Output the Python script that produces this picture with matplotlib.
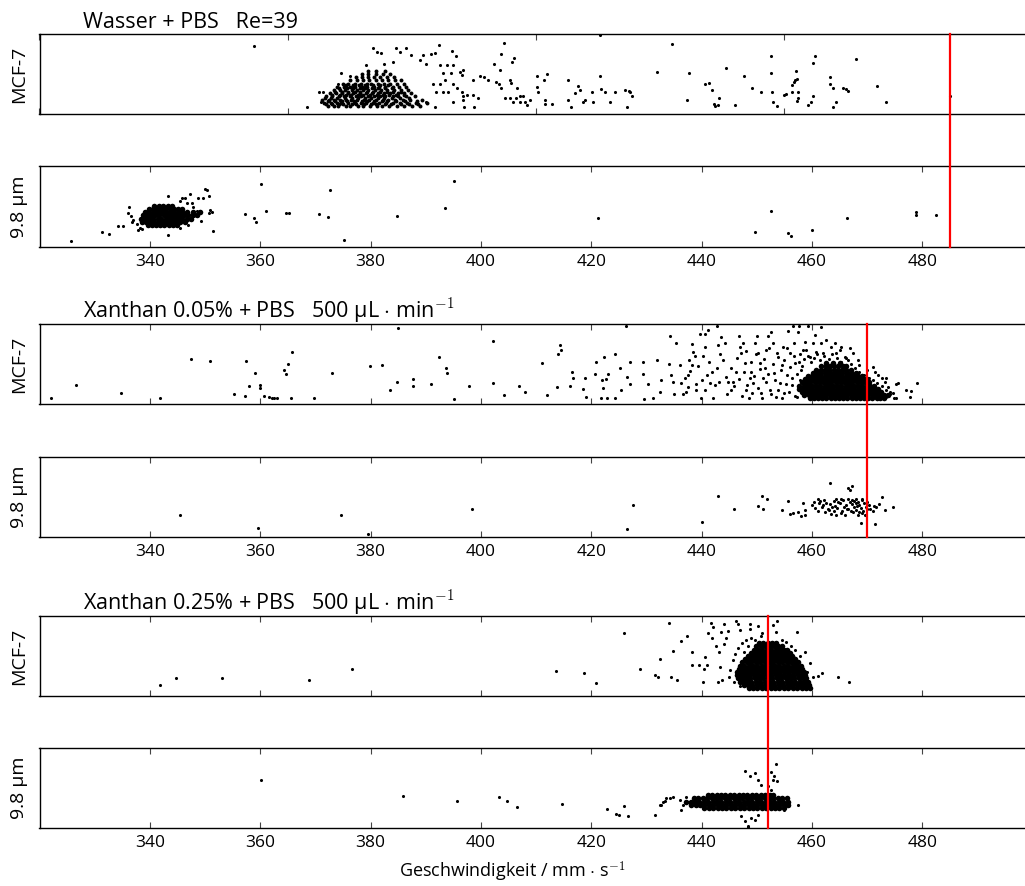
import numpy as np
import matplotlib
matplotlib.use("Agg")
import matplotlib.pyplot as plt
import matplotlib.transforms as mtransforms
from matplotlib.lines import Line2D

plt.rcParams['font.family'] = ['Open Sans', 'DejaVu Sans']
plt.rcParams['mathtext.fontset'] = 'cm'

# ---------------- data ----------------
x_limits = (320, 500)
ticks_std = [340, 360, 380, 400, 420, 440, 460, 480]
ticks_p1 = [320, 365, 410, 455, 500]

titles = ["Wasser + PBS   Re=39",
          "Xanthan 0.05% + PBS   500 µL $\\cdot$ min$^{-1}$",
          "Xanthan 0.25% + PBS   500 µL $\\cdot$ min$^{-1}$"]
row_labels = ["MCF-7", "9.8 µm"]
x_label = "Geschwindigkeit / mm $\\cdot$ s$^{-1}$"
red_lines = [485, 470, 452]

# Panel 1: Wasser, MCF-7 (velocity, relative y)
p1_pts = [
 (358.9,.85),(368.4,.09),(370.7,.28),(371.4,.28),(371.1,.15),
 (380.4,.83),(381.1,.77),(381.9,.76),(384.6,.83),(385.4,.78),(386.4,.83),(387.4,.74),(389.5,.74),(391.0,.75),
 (391.6,.76),(392.4,.86),(394.7,.79),(395.4,.73),(379.1,.61),(382.4,.63),(384.0,.65),(389.0,.68),(390.1,.63),
 (392.6,.61),(393.8,.61),(394.9,.61),(374.7,.51),(376.2,.47),(374.1,.38),
 (393.2,.51),(394.5,.51),(393.5,.43),(396.2,.53),(396.5,.49),(396.8,.55),(398.5,.43),(399.8,.47),(400.5,.46),
 (401.3,.42),(394.9,.38),(395.6,.32),(396.5,.28),(396.8,.22),(397.4,.24),(398.5,.24),(399.5,.20),(394.9,.15),
 (396.7,.18),(397.0,.09),(398.8,.09),(391.6,.09),(390.1,.15),(391.9,.28),(393.2,.28),(394.1,.28),(392.6,.38),(391.3,.38),
 (402.3,.63),(403.6,.75),(404.1,.89),(403.5,.55),(405.7,.65),(406.0,.70),(402.8,.40),(403.2,.38),(403.7,.32),
 (405.2,.43),(405.5,.39),(406.6,.33),(404.3,.20),(405.2,.20),(405.8,.15),(406.4,.20),(407.0,.22),(407.0,.15),
 (407.9,.15),(408.3,.11),(408.9,.18),(407.6,.22),
 (410.2,.48),(411.9,.50),(411.4,.43),(410.2,.34),(410.4,.27),(411.6,.18),(411.6,.13),(412.8,.13),(415.8,.42),
 (417.6,.35),(417.9,.30),(417.0,.26),(415.7,.18),(416.4,.09),(418.5,.15),(418.8,.18),(420.3,.15),(420.2,.28),
 (421.5,.47),(421.7,.31),(422.5,.28),(423.4,.15),(424.3,.28),(426.1,.30),(426.9,.29),(427.3,.22),(426.4,.09),(421.5,.99),
 (427.0,.27),(434.7,.88),(432.0,.52),(437.8,.51),(437.4,.17),(440.6,.37),(441.3,.39),(441.8,.30),(442.2,.13),
 (442.5,.10),(443.0,.11),(443.2,.20),(444.4,.58),(446.0,.11),(447.7,.48),(449.2,.33),(450.8,.28),(452.5,.73),
 (452.6,.51),(452.8,.27),(453.0,.15),(453.6,.10),(455.0,.24),(455.3,.25),(456.4,.28),(456.4,.36),(456.7,.40),
 (457.0,.43),(457.2,.44),(457.1,.54),(457.5,.27),(457.5,.20),(457.3,.16),(459.2,.11),(459.8,.15),(460.2,.23),
 (460.2,.64),(460.5,.73),(463.2,.46),(463.2,.38),(463.8,.32),(464.4,.15),(463.8,.09),(465.7,.32),(466.2,.31),
 (466.6,.29),(468.0,.69),(471.8,.35),(473.5,.15),(485.0,.23),
]
p1_dense_y = [0.10, 0.12, 0.14, 0.16, 0.18, 0.20, 0.22, 0.24, 0.26, 0.28, 0.30, 0.32, 0.34, 0.36,
              0.38, 0.42, 0.46, 0.50, 0.54]
p1_dense_x = [
 [372.3,373.4,374.1,375.5,376.3,377.8,378.6,379.9,381.2,382.0,383.4,384.7,386.1,387.5,389.0],
 [371.9,373.0,374.3,375.0,376.7,377.4,378.9,380.1,381.0,382.6,383.7,385.5,387.0,388.6],
 [371.6,372.8,373.9,374.7,376.0,377.1,378.3,379.2,380.5,381.6,382.8,384.0,385.3,386.6,388.2,390.3],
 [372.2,373.5,374.9,375.8,377.0,378.4,379.3,380.6,382.0,383.0,384.6,386.2,388.4],
 [371.2,372.5,373.3,374.4,375.6,376.5,377.6,378.9,379.8,381.0,382.3,383.2,384.5,385.9,387.2,389.4],
 [371.8,372.9,374.0,375.3,376.6,377.8,379.0,380.0,381.4,382.5,383.9,385.4,387.0],
 [372.0,373.1,374.2,375.1,376.2,377.4,378.2,379.5,380.6,381.8,382.7,384.1,385.0,386.4,388.0],
 [373.0,374.4,375.6,376.4,377.7,378.6,379.9,381.1,382.2,383.3,384.6,386.0],
 [372.6,373.7,374.8,375.9,376.8,378.0,379.1,380.2,381.4,382.5,383.6,384.9,386.0,387.3],
 [373.5,374.9,376.0,377.2,378.1,379.4,380.4,381.7,382.9,384.1,385.5],
 [373.3,374.5,375.4,376.6,377.5,378.7,379.6,380.8,381.9,383.0,384.3,385.6,386.8],
 [374.3,375.7,376.9,378.0,379.0,380.3,381.3,382.6,383.8],
 [374.0,375.2,376.3,377.2,378.4,379.4,380.6,381.5,382.7,384.0,385.2,386.5],
 [375.5,376.8,377.9,379.0,380.5,381.8,383.2],
 [375.0,376.0,377.1,378.2,379.3,380.1,381.3,382.4,383.6,384.8,386.0],
 [376.2,377.5,378.6,379.8,380.9,382.0,383.2,384.4,385.5],
 [377.3,378.5,379.6,380.7,381.8,383.0,384.3],
 [378.4,379.6,380.9,382.2,383.5],
 [379.5,381.0,382.6],
]

# Panel 2: Wasser, 9.8 µm beads
p2_pts = [
 (325.7,.07),(331.4,.19),(332.6,.16),(334.2,.26),(335.1,.26),(336.1,.42),(336.3,.50),(336.5,.38),(336.7,.31),
 (337.0,.33),(337.6,.29),(337.9,.21),(338.2,.24),(338.5,.22),(343.3,.63),(343.3,.15),(345.5,.57),(345.5,.24),
 (345.9,.61),(346.4,.61),(346.7,.54),(347.3,.65),(347.6,.54),(347.9,.50),(348.8,.61),(349.7,.61),(350.0,.72),
 (350.3,.70),(350.7,.63),(350.9,.46),(351.2,.43),(350.8,.42),(349.2,.32),(351.4,.20),(347.0,.27),(347.6,.35),
 (348.2,.40),(348.5,.44),(349.1,.45),
 (357.2,.41),(358.9,.36),(359.3,.31),(360.1,.78),(361.1,.45),(364.6,.42),(365.2,.42),(370.7,.41),(372.2,.37),
 (372.6,.70),(375.2,.09),(384.8,.38),(393.5,.48),(395.2,.81),(421.2,.36),(449.6,.19),(452.6,.44),(455.6,.17),
 (456.2,.14),(460.0,.21),(466.3,.36),(478.8,.43),(478.8,.40),(482.4,.40),
]
p2_dense_y = [0.27, 0.31, 0.35, 0.39, 0.43, 0.47, 0.51]
p2_dense_x = [
 [339.6,340.4,341.1,341.9,342.6,343.4,344.2,345.0],
 [338.6,339.3,340.1,340.8,341.6,342.3,343.1,343.8,344.6,345.4,346.3],
 [338.4,339.1,339.9,340.6,341.4,342.1,342.9,343.6,344.4,345.1,345.9,346.7,347.5],
 [338.7,339.5,340.2,341.0,341.7,342.5,343.2,344.0,344.7,345.5,346.2,347.0,347.8,348.6],
 [339.2,339.9,340.7,341.4,342.2,342.9,343.7,344.4,345.2,345.9,346.8,347.9,349.0],
 [339.8,340.6,341.3,342.1,342.8,343.6,344.3,345.1,345.9],
 [340.8,341.6,342.4,343.2,344.0],
]

# Panel 3: Xanthan 0.05 %, MCF-7
p3_pts = [
 (322.0,.07),(326.6,.24),(334.8,.14),(341.8,.07),(347.5,.56),(350.9,.54),(355.2,.13),(357.3,.10),(357.4,.54),
 (358.0,.23),(359.0,.39),(359.9,.24),(359.9,.20),(360.7,.10),(361.6,.09),(362.1,.08),(362.5,.075),(363.1,.07),
 (364.3,.43),(364.7,.37),(365.0,.50),(365.7,.65),(365.6,.07),(369.7,.07),(373.0,.39),(379.9,.48),(382.0,.49),
 (383.6,.17),(384.7,.27),(385.0,.95),(387.6,.31),(387.6,.23),(390.9,.25),(392.4,.59),(393.6,.45),(393.9,.39),
 (395.1,.06),(397.9,.22),(402.1,.79),(402.1,.26),(404.2,.11),(406.9,.22),
 (407.9,.155),(411.0,.51),(411.9,.11),(413.7,.21),(414.0,.63),(414.3,.74),(414.6,.675),(416.2,.225),(416.5,.40),
 (416.6,.32),(418.5,.19),(418.8,.32),(419.0,.09),(420.6,.37),(420.9,.52),(421.7,.08),(421.9,.30),(422.1,.195),
 (422.3,.59),(422.6,.31),(422.9,.08),(423.1,.375),(424.3,.625),(424.3,.08),(425.2,.45),(425.3,.175),(426.3,.975),
 (426.5,.34),(427.0,.53),(427.1,.25),(429.3,.52),(429.4,.38),(429.6,.06),(430.3,.25),(431.1,.07),(431.9,.55),
 (432.4,.155),(432.7,.30),(434.1,.50),(434.2,.85),(434.5,.36),(434.8,.28),(435.0,.125),(436.2,.26),(436.6,.125),
 (437.2,.155),(437.5,.36),(437.8,.55),(438.2,.49),(438.3,.75),(438.5,.655),(438.8,.60),(438.9,.25),(439.4,.47),
 (439.7,.875),(439.9,.08),(440.3,.60),(440.6,.875),(440.7,.717),(440.9,.36),(441.2,.925),(441.3,.53),(441.5,.26),
 (442.1,.08),(442.7,.975),(443.0,.74),(435.4,.758),(436.0,.488),(436.9,.32),(437.5,.217),(437.9,.417),(439.05,.175),
 (440.1,.30),(440.6,.175),(441.8,.404),(442.4,.238),(442.7,.446),(443.1,.279),
 (443.6,.84),(443.3,.63),(444.2,.76),(443.9,.55),(444.5,.34),(444.8,.28),(445.4,.175),(445.7,.28),(446.3,.40),
 (446.7,.85),(446.9,.717),(447.2,.633),(447.5,.76),(447.8,.508),(448.1,.175),(448.6,.08),(448.7,.32),(449.0,.40),
 (449.3,.258),(449.6,.76),(450.0,.85),(450.2,.633),(450.5,.508),(450.8,.133),(451.1,.32),(451.4,.446),(451.7,.675),
 (452.0,.85),(452.3,.175),(452.6,.904),(452.9,.76),(453.2,.383),(453.5,.092),(453.8,.592),(454.2,.258),(454.5,.488),
 (454.8,.717),(455.0,.133),(455.4,.363),(455.7,.917),(455.96,.633),(456.3,.238),(456.6,.975),(456.7,.758),(456.9,.508),
 (457.2,.092),(457.5,.904),(457.7,.975),(457.8,.30),(457.95,.425),(458.4,.675),(458.7,.779),(458.98,.217),(459.3,.975),
 (459.6,.592),(460.2,.758),(460.5,.8625),(460.8,.654),(461.6,.967),(461.7,.758),(462.0,.633),(462.6,.80),(463.5,.717),
 (464.1,.758),(464.4,.633),(465.0,.675),(465.3,.717),(465.9,.592),(466.5,.55),(466.8,.696),(467.4,.633),(468.3,.55),
 (468.6,.488),(469.9,.425),(471.1,.467),(471.4,.404),(472.0,.363),(472.6,.32),(473.2,.279),(473.5,.32),(473.8,.217),
 (474.7,.133),(475.2,.25),(475.6,.267),(475.3,.071),(474.1,.154),(473.5,.083),(477.1,.175),(478.0,.167),(477.7,.083),
 (479.0,.267),
 (444.6,.12),(445.3,.45),(445.9,.22),(446.4,.58),(446.8,.31),(447.3,.10),(447.6,.40),(448.0,.66),(448.3,.24),
 (448.9,.52),(449.2,.14),(449.5,.35),(449.9,.62),(450.3,.20),(450.6,.44),(451.0,.08),(451.3,.56),(451.6,.27),
 (452.0,.38),(452.2,.70),(452.6,.12),(452.9,.50),(453.3,.30),(453.6,.64),(453.9,.18),(454.3,.42),(454.6,.08),
 (454.9,.55),(455.2,.25),(455.5,.70),(455.8,.15),(456.1,.46),(456.4,.33),(456.8,.60),(457.0,.10),(457.3,.38),
 (457.6,.52),(457.9,.62),(458.2,.47),(458.5,.56),(458.9,.68),(459.3,.60),(459.8,.52),(460.3,.57),(460.9,.62),
 (461.5,.55),(462.2,.60),(463.0,.56),(463.7,.62),(464.5,.57),(465.3,.52),(466.1,.58),(467.0,.50),(467.8,.45),
 (468.5,.40),(469.4,.36),(470.3,.33),(471.0,.30),(471.8,.26),(472.6,.22),(473.4,.18),(474.2,.12),(474.8,.08),
]
p3_dense_y = [0.07, 0.11, 0.15, 0.19, 0.23, 0.27, 0.31, 0.35, 0.39, 0.43, 0.47, 0.51]
p3_dense_x = [
 [459.6,460.3,461.1,461.8,462.6,463.4,464.1,464.9,465.6,466.4,467.2,467.9,468.7,469.4,470.2,470.9,471.7,472.4,473.1],
 [458.6,459.4,460.1,460.9,461.7,462.4,463.2,463.9,464.7,465.5,466.2,467.0,467.7,468.5,469.3,470.0,470.8,471.5,472.3,473.0,473.7],
 [458.1,458.9,459.6,460.4,461.2,461.9,462.7,463.4,464.2,465.0,465.7,466.5,467.2,468.0,468.8,469.5,470.3,471.0,471.8,472.5],
 [457.6,458.4,459.1,459.9,460.7,461.4,462.2,462.9,463.7,464.5,465.2,466.0,466.7,467.5,468.3,469.0,469.8,470.5,471.3,472.0],
 [457.7,458.5,459.2,460.0,460.8,461.5,462.3,463.0,463.8,464.6,465.3,466.1,466.8,467.6,468.4,469.1,469.9,470.6,471.2],
 [458.2,459.0,459.7,460.5,461.3,462.0,462.8,463.5,464.3,465.1,465.8,466.6,467.3,468.1,468.9,469.6,470.4],
 [458.7,459.5,460.2,461.0,461.8,462.5,463.3,464.0,464.8,465.6,466.3,467.1,467.8,468.6,469.4,470.0],
 [459.2,460.0,460.7,461.5,462.3,463.0,463.8,464.5,465.3,466.1,466.8,467.6,468.3,469.0],
 [460.2,461.0,461.7,462.5,463.3,464.0,464.8,465.5,466.3,467.1,467.9],
 [460.8,461.6,462.4,463.1,463.9,464.7,465.4,466.2,467.0],
 [461.7,462.5,463.3,464.0,464.8,465.6,466.2],
 [462.6,463.8,465.0],
]

# Panel 4: Xanthan 0.05 %, 9.8 µm beads
p4_pts = [
 (345.5,.28),(359.6,.11),(374.7,.275),(379.6,.04),(398.3,.35),
 (426.4,.10),(427.6,.396),(440.0,.19),(442.9,.51),(445.8,.346),(450.2,.387),(450.9,.517),(451.1,.346),(451.9,.475),
 (454.5,.333),(455.6,.446),(456.1,.287),(456.6,.296),(457.5,.317),(457.95,.267),(458.3,.425),(458.7,.337),(458.8,.27),
 (463.2,.68),(466.5,.61),(466.8,.59),(467.2,.642),(468.9,.18),(471.5,.158),(472.6,.504),(474.6,.379),(473.2,.337),
 (463.5,.29),(464.3,.27),(465.2,.30),(466.0,.28),(467.4,.31),(468.3,.27),(469.0,.30),(469.6,.28),
 (461.0,.33),(462.4,.31),(463.1,.34),(464.0,.32),(465.5,.33),(466.3,.35),(467.0,.32),(467.9,.34),(468.6,.31),
 (469.3,.33),(470.0,.35),(471.0,.32),
 (460.5,.36),(461.8,.38),(462.9,.35),(463.7,.37),(464.6,.36),(465.8,.38),(466.6,.35),(467.6,.37),(468.2,.39),
 (468.9,.36),(469.8,.37),(470.6,.35),(471.6,.37),
 (460.0,.40),(461.2,.42),(462.0,.40),(463.3,.41),(464.1,.39),(465.1,.42),(466.2,.40),(467.2,.41),(467.9,.43),
 (468.5,.40),(469.4,.42),(470.3,.40),(471.3,.39),(472.2,.41),
 (460.3,.44),(461.5,.45),(462.6,.43),(463.9,.45),(464.8,.44),(465.6,.46),(466.9,.44),(467.6,.45),(468.3,.44),
 (469.1,.46),(470.0,.44),
 (461.1,.47),(462.2,.46),(464.4,.47),(465.3,.48),(466.5,.47),(467.3,.46),(468.0,.48),(469.0,.47),
]

# Panel 5: Xanthan 0.25 %, MCF-7
p5_pts = [
 (341.8,.138),(344.7,.229),(353.0,.229),(368.9,.20),(376.6,.333),
 (413.6,.317),(418.6,.283),(420.9,.167),(425.9,.783),(428.8,.337),(431.5,.2625),(432.1,.242),(432.4,.4625),
 (434.0,.917),(434.5,.242),(434.9,.5625),(435.6,.20),(436.3,.692),(437.4,.75),(438.2,.546),(438.3,.392),
 (439.5,.3875),(440.2,.175),(440.4,.3375),(440.6,.483),(440.9,.3875),(441.1,.783),(441.7,.917),(441.95,.72),
 (442.1,.858),(442.6,.629),(443.0,.179),(443.1,.554),(443.3,.367),(443.5,.796),(443.7,.20),(444.0,.90),
 (444.1,.646),(444.5,.72),(444.8,.817),(446.2,.942),(446.6,.90),(446.9,.825),(446.9,.125),(448.8,.90),
 (448.7,.833),(450.3,.879),(450.7,.75),(450.9,.783),(452.9,.8875),(453.7,.942),(453.5,.804),(454.6,.70),
 (457.2,.796),(458.7,.546),(459.6,.408),(459.1,.304),(460.2,.233),(461.0,.25),(461.8,.283),(464.7,.242),(466.7,.171),
 (444.9,.24),(445.2,.33),(445.6,.45),(445.9,.18),(446.1,.52),(446.4,.28),(446.6,.60),(447.0,.38),(447.3,.66),
 (447.7,.55),(448.1,.70),(448.4,.62),(449.0,.72),(449.6,.70),(455.3,.68),(456.2,.62),(457.0,.58),(457.8,.50),
]
p5_dense_y = [0.10, 0.14, 0.18, 0.22, 0.26, 0.30, 0.34, 0.38, 0.42, 0.46, 0.50, 0.54, 0.58, 0.62, 0.66]
p5_dense_x = [
 [448.5,449.3,450.1,450.9,451.7,452.5,453.3,454.1,454.9,455.7,456.5,457.3,458.1,458.9,459.6],
 [447.6,448.4,449.2,450.0,450.8,451.6,452.4,453.2,454.0,454.8,455.6,456.4,457.2,458.0,458.8,459.5],
 [447.0,447.7,448.4,449.0,449.8,450.6,451.4,452.2,453.0,453.8,454.6,455.4,456.2,457.0,457.8,458.6,459.3],
 [446.6,447.3,448.0,448.8,449.6,450.4,451.2,452.0,452.8,453.6,454.4,455.2,456.0,456.8,457.6,458.4,459.0],
 [446.4,447.2,447.9,448.6,449.4,450.2,451.0,451.8,452.6,453.4,454.2,455.0,455.8,456.6,457.4,458.2,458.8],
 [446.5,447.3,448.0,448.7,449.3,450.1,450.9,451.7,452.5,453.3,454.1,454.9,455.7,456.5,457.3,458.1,458.5],
 [446.7,447.5,448.2,448.8,449.6,450.4,451.2,452.0,452.8,453.6,454.4,455.2,456.0,456.8,457.6,458.2],
 [447.0,447.7,448.5,449.3,450.1,450.9,451.7,452.5,453.3,454.1,454.9,455.7,456.5,457.3,458.0],
 [447.4,448.2,449.0,449.8,450.6,451.4,452.2,453.0,453.8,454.6,455.4,456.2,457.0,457.5],
 [447.9,448.7,449.5,450.3,451.1,451.9,452.7,453.5,454.3,455.1,455.9,456.7,457.0],
 [448.4,449.2,450.0,450.8,451.6,452.4,453.2,454.0,454.8,455.6,456.4],
 [448.9,449.7,450.5,451.3,452.1,452.9,453.7,454.5,455.3,456.0],
 [449.4,450.2,451.0,451.8,452.6,453.4,454.2,455.0,455.5],
 [449.9,450.7,451.5,452.3,453.1,453.9,454.5],
 [450.4,451.2,452.0,452.8,453.5],
]

# Panel 6: Xanthan 0.25 %, 9.8 µm beads
p6_pts = [
 (360.2,.596),(385.9,.404),(395.7,.34),(403.2,.383),(404.8,.336),(406.6,.268),(414.7,.298),(422.9,.234),
 (424.5,.179),(425.1,.157),(425.9,.272),(426.7,.145),(431.5,.157),(432.4,.285),(433.0,.328),(433.6,.37),
 (434.8,.391),(436.3,.221),(447.8,.71),(448.8,.647),(449.6,.689),(450.2,.604),(450.8,.54),(452.0,.519),
 (452.6,.698),(452.9,.604),(453.4,.796),(453.1,.647),(452.6,.477),(453.7,.583),(447.2,.145),(447.8,.085),
 (448.4,.03),(449.0,.128),(449.6,.094),(450.2,.157),(448.4,.017),(454.9,.221),(457.5,.285),
 (432.7,.285),(433.4,.336),(434.2,.37),(436.0,.349),(436.6,.285),(437.2,.391),(437.8,.328),
]
p6_dense_y = [0.25, 0.29, 0.33, 0.37, 0.41]
p6_dense_x = [
 [440.5,441.3,442.1,442.9,443.7,444.5,445.3,446.1,446.9,447.7,448.5,449.3,450.1,450.9,451.7,452.5,453.3,454.1,454.9],
 [438.1,438.9,439.7,440.5,441.3,442.1,442.9,443.7,444.5,445.3,446.1,446.9,447.7,448.5,449.3,450.1,450.9,451.7,452.5,453.3,454.1,454.9,455.7],
 [437.2,438.0,438.8,439.6,440.4,441.2,442.0,442.8,443.6,444.4,445.2,446.0,446.8,447.6,448.4,449.2,450.0,450.8,451.6,452.4,453.2,454.0,454.8,455.6],
 [438.6,439.4,440.2,441.0,441.8,442.6,443.4,444.2,445.0,445.8,446.6,447.4,448.2,449.0,449.8,450.6,451.4,452.2,453.0,453.8,454.6,455.4],
 [441.1,441.9,442.7,443.5,444.3,445.1,445.9,446.7,447.5,448.3,449.1,449.9,450.7,451.5,452.3,453.0],
]

# ---------------- figure ----------------
W, H = 1025, 886
fig = plt.figure(figsize=(W / 100, H / 100), dpi=100)

left_px, right_px = 39.5, 1032.7
panel_px = [(34, 114), (166, 247), (324, 404), (457, 537), (616, 696), (748, 828)]

def rows_to_xy(ys, xs):
    X, Y = [], []
    for yv, row in zip(ys, xs):
        X.extend(row)
        Y.extend([yv] * len(row))
    return X, Y

panels = [
    (p1_pts, p1_dense_y, p1_dense_x, 8),
    (p2_pts, p2_dense_y, p2_dense_x, 16),
    (p3_pts, p3_dense_y, p3_dense_x, 16),
    (p4_pts, [], [], 5),
    (p5_pts, p5_dense_y, p5_dense_x, 16),
    (p6_pts, p6_dense_y, p6_dense_x, 16),
]

axes = []
for i, ((top, bot), (pts, dy, dx, dsize)) in enumerate(zip(panel_px, panels)):
    ax = fig.add_axes([left_px / W, 1 - bot / H, (right_px - left_px) / W, (bot - top) / H])
    axes.append(ax)
    px = [p[0] for p in pts]
    py = [p[1] for p in pts]
    if dy:
        cx, cy = rows_to_xy(dy, dx)
        ax.scatter(cx, cy, s=dsize, c='black', linewidths=0, zorder=2)
    ax.scatter(px, py, s=5, c='black', linewidths=0, zorder=2)
    ax.set_xlim(*x_limits)
    ax.set_ylim(0, 1)
    ax.set_yticks([])
    ax.set_xticks(ticks_p1 if i == 0 else ticks_std)
    ax.tick_params(axis='x', direction='in', top=True, bottom=True, length=4, width=0.8,
                   color='#444444', labelsize=12.5, pad=5,
                   labelbottom=(i % 2 == 1))
    for sp in ax.spines.values():
        sp.set_linewidth(1.0)
    fig.text(19.5 / W, 1 - (top + bot) / 2 / H, row_labels[i % 2], rotation=90,
             ha='center', va='center', fontsize=14)

# titles
for k, t in enumerate(titles):
    ax = axes[2 * k]
    ax.text((83 - left_px) / (right_px - left_px), 1.08, t, transform=ax.transAxes,
            ha='left', va='baseline', fontsize=15.5)

# red reference lines spanning each pair of panels
for k, v in enumerate(red_lines):
    top_ax, bot_ax = axes[2 * k], axes[2 * k + 1]
    tr = mtransforms.blended_transform_factory(top_ax.transData, fig.transFigure)
    y0 = 1 - panel_px[2 * k + 1][1] / H
    y1 = 1 - panel_px[2 * k][0] / H
    fig.add_artist(Line2D([v, v], [y0, y1], transform=tr, color='red', linewidth=1.6, zorder=5))

fig.text(0.5, 1 - 877 / H, x_label, ha='center', va='baseline', fontsize=13)

fig.savefig("out.png", dpi=100)
